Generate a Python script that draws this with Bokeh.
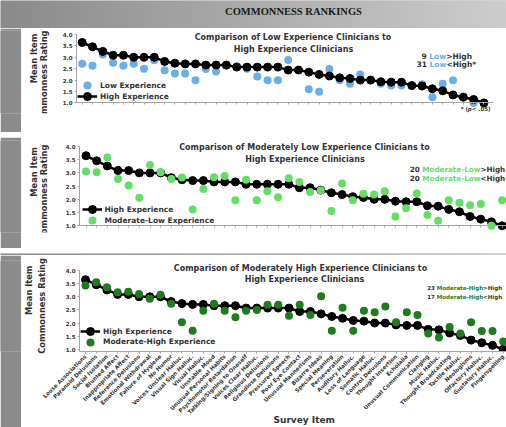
import numpy as np
from math import pi
from bokeh.plotting import figure
from bokeh.models import (Range1d, FixedTicker, NumeralTickFormatter, Legend,
                          LegendItem, Label, Title, ColumnDataSource)
from bokeh.layouts import column, row
from bokeh.embed import file_html
from bokeh.resources import INLINE

# ---------------- data ----------------
survey_items = [
    "Loose Associations", "Paranoid Delusions", "Social Isolation", "Blunted Affect",
    "Inappropriate Affect", "Reference Delusions", "Emotional Withdrawal", "Failure of Hygiene",
    "No Humor", "Voices Unclear Halluc.", "Visual Sign Halluc.", "Visual Halluc.",
    "Unstable Mood", "Unusual Personal Habits", "Psychomotor Retardation",
    "Talking/Signing to Oneself", "Voices Clear Halluc.", "Religious Delusions",
    "Grandiose Delusions", "Pressured Speech", "Poor Eye Contact", "Unusual Mannerisms",
    "Bizarre Ideas", "Special Meaning", "Perseveration", "Auditory Halluc.",
    "Loss of Language", "Somatic Halluc.", "Control Delusions", "Thought Insertion",
    "Echolalia", "Unusual Communication", "Clanging", "Music Halluc.",
    "Thought Broadcasting", "Tactile Halluc.", "Neologisms", "Olfactory Halluc.",
    "Gustatory Halluc.", "Fingerspelling",
]
high_experience = [3.65, 3.46, 3.26, 3.09, 3.09, 3.00, 3.00, 3.00, 2.82, 2.74,
                   2.71, 2.71, 2.66, 2.66, 2.66, 2.57, 2.57, 2.57, 2.57, 2.57,
                   2.44, 2.44, 2.35, 2.25, 2.18, 2.10, 2.07, 2.00, 2.00, 1.93,
                   1.91, 1.91, 1.76, 1.74, 1.62, 1.53, 1.35, 1.25, 1.15, 1.00]
low_experience = [2.72, 2.63, 3.12, 2.76, 2.63, 2.72, 2.50, 2.87, 2.43, 2.29,
                  2.29, 1.99, 2.49, 2.38, 2.64, 2.60, 2.50, 2.16, 1.99, 1.99,
                  2.88, 2.46, 1.60, 1.49, 2.49, 1.99, 1.84, 2.25, 1.99, 1.84,
                  1.76, 1.76, 1.78, 1.82, 1.25, 1.84, 1.99, 1.27, 1.00, 1.00]
moderate_low_experience = [3.05, 3.03, 3.58, 2.77, 2.52, 2.06, 3.30, 3.03, 2.77, 2.83,
                           1.62, 2.39, 2.84, 2.88, 1.97, 2.74, 1.97, 2.31, 2.08, 2.80,
                           2.66, 2.28, 2.34, 1.56, 2.60, 1.97, 2.21, 2.18, 2.31, 1.35,
                           1.66, 2.22, 1.41, 1.19, 1.97, 1.87, 1.78, 1.82, 1.00, 1.97]
moderate_high_experience = [3.43, 3.55, 3.36, 3.17, 3.19, 3.11, 2.92, 3.08, 2.73, 2.03,
                            1.71, 2.47, 2.73, 2.47, 2.22, 2.47, 2.50, 2.70, 2.70, 2.28,
                            2.70, 2.31, 3.02, 1.71, 2.58, 1.71, 2.47, 2.41, 2.63, 2.03,
                            2.41, 2.31, 1.60, 1.45, 1.85, 1.60, 2.03, 1.70, 1.70, 1.30]
y_ticks = [1.0, 1.5, 2.0, 2.5, 3.0, 3.5, 4.0]
low_counts = ("9", "31")
modlow_counts = ("20", "20")
modhigh_counts = ("23", "17")

# ---------------- style ----------------
FONT = "DejaVu Sans"
BLUE = "#6aaeea"
LGREEN = "#66dd66"
DGREEN = "#1e7b1e"
TXT = "#333333"
AXIS = "#a6a6a6"
PAGE_W, PAGE_H = 506, 427
PANEL_X = 55          # where the plotting figure of the upper panels starts
YT_SIZE = "8.3px"

# DejaVu Sans Bold advance widths (em) for piecewise coloured text
W = {" ": .348, "*": .5, "-": .415, ".": .38, "<": .838, ">": .838, "H": .837, "L": .637,
     "M": .995, "a": .675, "d": .716, "e": .678, "g": .716, "h": .712, "i": .343, "o": .687,
     "r": .493, "t": .478, "w": .924, "p": .716, "(": .457, ")": .457}
for dch in "0123456789":
    W[dch] = .696


def tw(s, size):
    return sum(W.get(c, .65) for c in s) * size


class RefMap:
    """page-pixel -> data mapping of one panel (for annotation placement)"""
    def __init__(self, x0, dx, ytop, k):
        self.x0, self.dx, self.ytop, self.k = x0, dx, ytop, k

    def x(self, xr):
        return (xr - self.x0) / self.dx

    def y(self, yr):
        return 4.0 - (yr - self.ytop) / self.k


def gray_level(xr):
    return 138 + (205 - 138) * xr / float(PAGE_W)


def bare(w, h, x0, x1, y0, y1):
    f = figure(width=w, height=h, x_range=Range1d(x0, x1), y_range=Range1d(y0, y1),
               toolbar_location=None, output_backend="svg", min_border=0,
               x_axis_location=None, y_axis_location=None, outline_line_color=None,
               title=None)
    f.grid.visible = False
    return f


def strip(x_ref0, w, h):
    s = bare(w, h, 0, w, 0, h)
    img = np.empty((1, w), dtype=np.uint32)
    v = img.view(dtype=np.uint8).reshape((1, w, 4))
    lv = np.array([gray_level(x_ref0 + i + 0.5) for i in range(w)]).round().astype(np.uint8)
    v[0, :, 0] = lv
    v[0, :, 1] = lv
    v[0, :, 2] = lv
    v[0, :, 3] = 255
    s.image_rgba(image=[img], x=0, y=0, dw=w, dh=h)
    c = int(lv.mean())
    s.background_fill_color = (c, c, c)
    s.border_fill_color = (c, c, c)
    return s


def ylabel_fig(h, fig_top, mean_top, comm_top):
    # white block left of the axis holding the two-line rotated y title
    f = bare(PANEL_X - 21, h, 21, PANEL_X, fig_top + h, fig_top)
    f.background_fill_color = "white"
    f.border_fill_color = "white"
    for txt, xr, yr in (("Mean Item", 33, mean_top), ("Commonness Rating", 43, comm_top)):
        f.add_layout(Label(x=xr, y=yr, text=txt, angle=pi / 2, text_align="right",
                           text_baseline="middle", text_font=FONT, text_font_size=YT_SIZE,
                           text_font_style="bold", text_color=TXT))
    return f


def add_text(p, m, xr, yr, parts, size, align="left"):
    total = sum(tw(pt[0], size) for pt in parts)
    off = 0 if align == "left" else -total
    for pt in parts:
        txt, col = pt[0], pt[1]
        style = pt[2] if len(pt) > 2 else "bold"
        p.add_layout(Label(x=m.x(xr), y=m.y(yr), x_offset=off, text=txt, text_color=col,
                           text_font=FONT, text_font_size=f"{size}px", text_font_style=style,
                           text_baseline="middle", text_align="left"))
        off += tw(txt, size)


def make_panel(h, fig_top, frame_top, frame_bottom, frame_left, frame_right, m,
               cmp_vals, cmp_color, cmp_label, cmp_first, title1, title2, tpos,
               leg_x, leg_centers, show_labels, panel_x=PANEL_X):
    w = PAGE_W - panel_x
    ystart = m.y(frame_bottom)
    p = figure(width=w, height=h, x_range=Range1d(m.x(frame_left), m.x(frame_right)),
               y_range=Range1d(ystart, m.y(frame_top)), toolbar_location=None,
               output_backend="svg", min_border_left=int(frame_left - panel_x),
               min_border_right=int(PAGE_W - frame_right),
               min_border_top=int(frame_top - fig_top),
               min_border_bottom=int(fig_top + h - frame_bottom),
               background_fill_color="white",
               border_fill_color="white", outline_line_color=None, title=None)
    p.grid.visible = False

    # y axis
    ya = p.yaxis[0]
    ya.ticker = FixedTicker(ticks=y_ticks)
    ya.formatter = NumeralTickFormatter(format="0.0")
    ya.bounds = (ystart, 4.0) if show_labels else (1.0, 4.0)
    ya.axis_line_color = AXIS
    ya.major_tick_line_color = AXIS
    ya.major_tick_out = 2
    ya.major_tick_in = 0
    ya.minor_tick_line_color = None
    ya.major_label_text_font = FONT
    ya.major_label_text_font_style = "bold"
    ya.major_label_text_font_size = "5.5px"
    ya.major_label_text_color = TXT
    ya.major_label_standoff = 2

    xa = p.xaxis[0]
    xa.axis_line_color = AXIS
    if show_labels:
        # bottom panel: labelled axis at the foot of the plotting area
        xa.ticker = FixedTicker(ticks=list(range(len(survey_items))))
        xa.major_tick_line_color = AXIS
        xa.major_tick_out = 2
        xa.major_tick_in = 0
        xa.minor_tick_line_color = None
        xa.major_label_overrides = {i: s for i, s in enumerate(survey_items)}
        xa.major_label_orientation = pi / 4
        xa.major_label_text_font = FONT
        xa.major_label_text_font_style = "bold"
        xa.major_label_text_font_size = "5.5px"
        xa.major_label_text_color = TXT
        xa.major_label_standoff = 2
        # y titles live in this figure's own left border
        ya.axis_label = "Commonness Rating"
        ya.axis_label_text_font = FONT
        ya.axis_label_text_font_size = YT_SIZE
        ya.axis_label_text_font_style = "bold"
        ya.axis_label_text_color = TXT
        ya.axis_label_standoff = 16
        p.add_layout(Title(text="Mean Item", align="right", offset=5, standoff=0,
                           text_font=FONT, text_font_size=YT_SIZE, text_font_style="bold",
                           text_color=TXT), "left")
    else:
        # upper panels: unlabelled axis drawn on the 1.0 line
        xa.fixed_location = 1.0
        xa.ticker = FixedTicker(ticks=[], minor_ticks=list(range(len(survey_items))))
        xa.major_tick_line_color = None
        xa.minor_tick_line_color = AXIS
        xa.minor_tick_out = 2
        xa.minor_tick_in = 0

    src = ColumnDataSource(dict(x=list(range(len(survey_items))), high=high_experience,
                                cmp=cmp_vals))

    def draw_cmp():
        return p.scatter("x", "cmp", source=src, size=8, fill_color=cmp_color,
                         line_color=None)

    def draw_high():
        lr = p.line("x", "high", source=src, line_color="black", line_width=2.5)
        sr = p.scatter("x", "high", source=src, size=8, fill_color="black",
                       line_color="black")
        return lr, sr

    if cmp_first:
        cr = draw_cmp()
        lr, sr = draw_high()
        entries = [(cmp_label, [cr]), ("High Experience", [lr, sr])]
    else:
        lr, sr = draw_high()
        cr = draw_cmp()
        entries = [("High Experience", [lr, sr]), (cmp_label, [cr])]

    for (label, rends), cy in zip(entries, leg_centers):
        leg = Legend(items=[LegendItem(label=label, renderers=rends)],
                     location=(leg_x, frame_bottom - (cy + 10)), orientation="vertical",
                     padding=0, margin=0, spacing=0, glyph_width=20, glyph_height=20,
                     label_height=20, label_standoff=3, label_text_font=FONT,
                     label_text_font_size="7.5px", label_text_font_style="bold",
                     label_text_color=TXT, label_text_baseline="middle",
                     background_fill_alpha=0, border_line_color=None)
        p.add_layout(leg)

    # chart title inside the plotting area
    (x1, y1), (x2, y2) = tpos
    for txt, xr, yr in ((title1, x1, y1), (title2, x2, y2)):
        p.add_layout(Label(x=m.x(xr), y=m.y(yr), text=txt, text_align="center",
                           text_baseline="middle", text_font=FONT, text_font_size="8px",
                           text_font_style="bold", text_color=TXT))
    return p


# ---------------- panel 1 ----------------
m1 = RefMap(81.7, 10.3, 34, 22.81)
p1 = make_panel(104, 28, 30, 113, 76, 493, m1, low_experience, BLUE, "Low Experience", True,
                "Comparison of Low Experience Clinicians to", "High Experience Clinicians",
                ((292.5, 37.3), (293, 48.7)), 1, (85, 96), False)
add_text(p1, m1, 421, 55.7, [(low_counts[0] + " ", TXT), ("Low", BLUE), (">High", TXT)], 7.5)
add_text(p1, m1, 416, 64.0, [(low_counts[1] + " ", TXT), ("Low", BLUE), ("<High*", TXT)], 7.5)
add_text(p1, m1, 492, 108.3, [("* (", TXT), ("p", TXT, "bold italic"), (" < .05)", TXT)],
         5.5, align="right")

# ---------------- panel 2 ----------------
m2 = RefMap(85.5, 10.67, 146, 26.42)
p2 = make_panel(111, 137, 140, 232, 79, 506, m2, moderate_low_experience, LGREEN,
                "Moderate-Low Experience", False,
                "Comparison of Moderately Low Experience Clinicians to",
                "High Experience Clinicians", ((304, 146.7), (304.5, 159.3)), 2.5,
                (209.3, 220), False)
add_text(p2, m2, 409.3, 169.0, [(modlow_counts[0] + " ", TXT), ("Moderate-Low", LGREEN),
                                (">High", TXT)], 7.2)
add_text(p2, m2, 409.3, 177.7, [(modlow_counts[1] + " ", TXT), ("Moderate-Low", LGREEN),
                                ("<High", TXT)], 7.2)

# ---------------- panel 3 ----------------
m3 = RefMap(85, 10.71, 270, 26.27)
p3 = make_panel(172, 255, 260, 351, 79, 506, m3, moderate_high_experience, DGREEN,
                "Moderate-High Experience", False,
                "Comparison of Moderately High Experience Clinicians to",
                "High Experience Clinicians", ((300, 268.3), (304, 279)), 1,
                (331, 341.5), True, panel_x=21)
add_text(p3, m3, 426.7, 287.7, [(modhigh_counts[0] + " ", TXT), ("Moderate-High", DGREEN),
                                (">High", TXT)], 5.5)
add_text(p3, m3, 426.7, 296.7, [(modhigh_counts[1] + " ", TXT), ("Moderate-High", DGREEN),
                                ("<High", TXT)], 5.5)
p3.add_layout(Title(text="Survey Item", align="left", offset=194, standoff=-12,
                    vertical_align="top", text_font=FONT, text_font_size="9px",
                    text_font_style="bold", text_color=TXT), "below")

# ---------------- page ----------------
top = strip(0, PAGE_W, 28)
top.add_layout(Label(x=293, y=17, text="COMMONNESS RANKINGS", text_align="center",
                     text_baseline="middle", text_font="Liberation Serif",
                     text_font_size="10.5px", text_font_style="bold", text_color="#1a1a1a"))

layout = column(
    top,
    row(strip(0, 21, 104), ylabel_fig(104, 28, 32, 28), p1),
    strip(0, PAGE_W, 5),
    row(strip(0, 21, 111), ylabel_fig(111, 137, 145, 142), p2),
    strip(0, PAGE_W, 7),
    row(strip(0, 21, 172), p3),
)

open("out.html", "w").write(file_html(layout, INLINE))
